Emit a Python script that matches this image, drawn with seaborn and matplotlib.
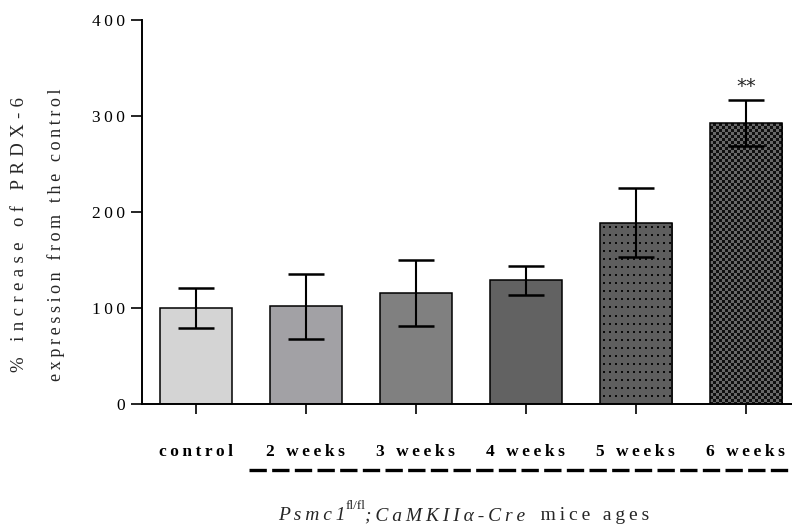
import numpy as np
import pandas as pd
import matplotlib
matplotlib.use("Agg")
import matplotlib.pyplot as plt
import matplotlib.transforms as mtransforms
from matplotlib.colors import ListedColormap
import seaborn as sns

# Mean PRDX-6 expression (% of control) with SEM per age group
groups = ["control", "2 weeks", "3 weeks", "4 weeks", "5 weeks", "6 weeks"]
means = [100, 102, 116, 129, 189, 293]
sems = [21, 34, 34.5, 15, 36, 24]
bar_colors = ["#d4d4d4", "#a2a1a5", "#808080", "#626262", "#5c5c5c", "#5c5c5c"]
significance = ["", "", "", "", "", "**"]
yticks = [0, 100, 200, 300, 400]

sns.set_theme(style="ticks")
plt.rcParams["font.family"] = ["Liberation Serif", "DejaVu Serif"]

SP = "\u2009"


def spaced(text, sep=SP):
    """Letter-space a string the way the figure's typesetting does."""
    return sep.join(text)


df = pd.DataFrame({"group": groups, "value": means})

fig = plt.figure(figsize=(7.92, 5.29), dpi=100)
ax = fig.add_axes([142 / 792, 1 - 404 / 529, 1 - 142 / 792, 383.5 / 529])

sns.barplot(data=df, x="group", y="value", hue="group", palette=bar_colors,
            legend=False, width=0.66, edgecolor="black", linewidth=1.1,
            errorbar=None, ax=ax, zorder=2)

# SEM error bars, drawn over the bars
ax.errorbar(np.arange(len(groups)), means, yerr=sems, fmt="none",
            ecolor="black", elinewidth=1.5, capsize=13, capthick=1.8, zorder=4)

ax.set_xlim(-0.49, 5.42)
ax.set_ylim(0, 400)


def texture_bar(bar, pattern, colors):
    """Fill a bar with a pixel-level texture clipped to its outline."""
    x0, y0 = bar.get_x(), bar.get_y()
    w, h = bar.get_width(), bar.get_height()
    (px0, py0), (px1, py1) = ax.transData.transform([(x0, y0), (x0 + w, y0 + h)])
    nx, ny = int(round(px1 - px0)), int(round(py1 - py0))
    tex = pattern(nx, ny)
    img = ax.imshow(tex, cmap=ListedColormap(colors), vmin=0, vmax=1,
                    extent=(x0, x0 + w, y0, y0 + h), aspect="auto",
                    interpolation="nearest", zorder=2.5, origin="upper")
    img.set_clip_path(bar)
    bar.set_facecolor("none")
    bar.set_zorder(3)


def dots(nx, ny, px=6, py=8):
    yy, xx = np.indices((ny, nx))
    return (((xx - 3) % px < 2) & ((yy - 4) % py < 2)).astype(float)


def checker(nx, ny, cell=3):
    yy, xx = np.indices((ny, nx))
    return ((xx // cell + yy // cell) % 2).astype(float)


bars = ax.patches
texture_bar(bars[4], dots, ["#5e5e5e", "#0a0a0a"])
texture_bar(bars[5], checker, ["#686868", "#101010"])

# Significance markers above the error bars
for i, (m, s, lab) in enumerate(zip(means, sems, significance)):
    if lab:
        ax.text(i, m + s + 4, lab, ha="center", va="bottom", fontsize=14,
                family="DejaVu Sans", zorder=5)

ax.set_yticks(yticks)
ax.set_yticklabels([spaced(str(t)) for t in yticks], fontsize=12.5)
ax.set_xticks(range(len(groups)))
ax.set_xticklabels([spaced(g) for g in groups], fontsize=12.5, fontweight="bold")
ax.tick_params(axis="x", length=7, width=1.2, pad=22, colors="black")
ax.tick_params(axis="y", length=8, width=1.2, pad=4, colors="black")
ax.set_xlabel("")
ax.set_ylabel("")
for side in ["top", "right"]:
    ax.spines[side].set_visible(False)
for side in ["left", "bottom"]:
    ax.spines[side].set_linewidth(1.4)
    ax.spines[side].set_color("black")

# Dashed bracket grouping the knockout ages, running to the figure edge
trans = mtransforms.blended_transform_factory(ax.transData, ax.transAxes)
ax.plot([0.48, 5.46], [-0.173, -0.173], transform=trans, clip_on=False,
        color="black", lw=2.4, linestyle=(0, (5.2, 1.6)), dash_capstyle="butt")

# Axis titles
fig.text(20 / 792, 1 - 235 / 529, spaced("% increase of PRDX-6", "\u2009\u200a"),
         rotation=90, ha="center", va="center", fontsize=13.5)
fig.text(56 / 792, 1 - 235 / 529, spaced("expression from the control"), rotation=90,
         ha="center", va="center", fontsize=13)

# Genotype label built from italic, superscript and upright pieces
x_start, y_base = 278 / 792, 1 - 524 / 529
t1 = fig.text(x_start, y_base, spaced("Psmc1"), style="italic", fontsize=14,
              ha="left", va="bottom")
t2 = ax.annotate("fl/fl", xy=(1, 0.68), xycoords=t1, ha="left", va="bottom",
                 fontsize=9.5, annotation_clip=False)
t3 = ax.annotate(spaced(";CaMKII\u03b1-Cre"), xy=(1, 0), xycoords=(t2, t1),
                 ha="left", va="bottom", style="italic", fontsize=14,
                 annotation_clip=False)
t4 = ax.annotate("   " + spaced("mice ages"), xy=(1, 0), xycoords=t3,
                 ha="left", va="bottom", fontsize=14, annotation_clip=False)

fig.savefig("out.png", dpi=100)
